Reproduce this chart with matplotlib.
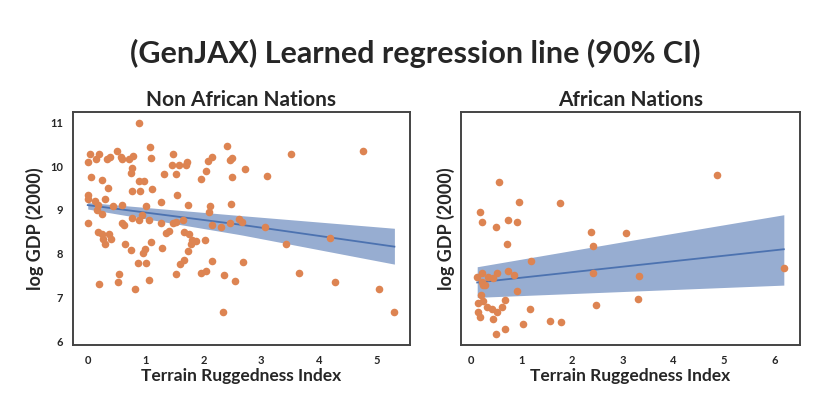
import numpy as np
import matplotlib
matplotlib.use("Agg")
import matplotlib.pyplot as plt

plt.rcParams['font.family'] = ['Lato', 'DejaVu Sans']

# Non-African nations: (ruggedness, log GDP 2000)
non_af_x = [0.886, 1.076, 0.035, 0.19, 0.51, 0.01, 0.14, 0.33, 0.39, 0.57, 0.60, 0.72, 0.78,
            0.77, 0.74, 1.10, 1.47, 1.45, 1.58, 1.70, 1.71, 1.53, 1.31, 0.06, 0.24, 0.88,
            0.97, 0.35, 0.77, 0.91, 1.11, 1.55, 0.0, 0.0, 0.13, 0.30, 1.27, 1.73, 0.18, 0.16,
            0.60, 0.44, 1.01, 0.24, 0.94, 0.77, 0.89, 1.05, 0.0, 0.60, 0.63, 1.27, 1.48, 1.53,
            1.64, 0.17, 0.24, 0.37, 0.41, 0.27, 0.29, 1.35, 1.40, 1.67, 1.75, 1.80, 1.79, 1.87,
            0.65, 0.75, 1.09, 1.28, 0.99, 0.96, 1.73, 0.86, 1.01, 1.67, 1.59, 0.54, 1.53, 0.52,
            0.19, 1.05, 0.81, 2.11, 2.09, 1.95, 2.04, 2.07, 2.14, 2.41, 2.46, 2.50, 2.49, 2.72,
            2.48, 2.15, 2.31, 2.45, 2.62, 2.66, 2.03, 2.15, 2.68, 1.95, 2.05, 2.35, 2.55, 2.33,
            3.10, 3.52, 3.07, 3.42, 3.65, 4.19, 4.28, 4.76, 5.04, 5.30]
non_af_y = [10.98, 10.45, 10.28, 10.28, 10.34, 10.09, 10.16, 10.17, 10.22, 10.20, 10.17, 10.17, 10.23,
            9.95, 9.85, 10.18, 10.29, 10.03, 10.02, 10.02, 10.10, 9.82, 9.82, 9.76, 9.69, 9.66,
            9.66, 9.50, 9.43, 9.44, 9.47, 9.35, 9.34, 9.24, 9.21, 9.26, 9.18, 9.12, 9.11, 9.00,
            9.11, 9.09, 9.10, 8.91, 8.89, 8.81, 8.76, 8.76, 8.70, 8.69, 8.66, 8.69, 8.71, 8.73,
            8.78, 8.49, 8.44, 8.45, 8.34, 8.33, 8.22, 8.47, 8.52, 8.50, 8.44, 8.31, 8.21, 8.28,
            8.21, 8.09, 8.27, 8.14, 8.11, 8.02, 8.07, 7.79, 7.79, 7.85, 7.76, 7.53, 7.53, 7.34,
            7.31, 7.40, 7.20, 9.08, 8.95, 9.70, 9.90, 10.12, 10.20, 10.46, 10.15, 10.18, 9.75, 9.93,
            9.13, 8.65, 8.60, 8.69, 8.79, 8.72, 8.31, 7.84, 7.80, 7.56, 7.61, 7.51, 7.37, 6.67,
            9.78, 10.29, 8.60, 8.23, 7.55, 8.36, 7.36, 10.34, 7.20, 6.67]

# African nations
af_x = [0.57, 4.87, 0.95, 1.77, 0.18, 0.22, 0.51, 0.73, 0.92, 2.37, 3.06, 0.72, 2.41, 1.20,
        6.19, 0.12, 0.23, 0.35, 0.44, 0.52, 0.74, 0.86, 0.22, 0.25, 0.29, 2.42, 3.32, 0.20,
        0.91, 0.14, 0.24, 0.67, 0.32, 0.42, 0.53, 0.62, 0.15, 0.18, 0.45, 3.30, 2.48, 1.17,
        1.57, 1.78, 1.03, 0.68, 0.50]
af_y = [9.64, 9.81, 9.18, 9.16, 8.96, 8.73, 8.61, 8.76, 8.72, 8.50, 8.47, 8.21, 8.18, 7.83,
        7.66, 7.47, 7.56, 7.47, 7.44, 7.55, 7.60, 7.50, 7.36, 7.28, 7.28, 7.55, 7.49, 7.06,
        7.14, 6.88, 6.91, 6.93, 6.79, 6.73, 6.66, 6.78, 6.67, 6.56, 6.51, 6.96, 6.82, 6.73,
        6.47, 6.44, 6.38, 6.27, 6.15]

# Regression line and 90% band (read at band ends / middle)
non_af_band_x = [0.0, 2.65, 5.30]
non_af_line = [9.11, 8.66, 8.16]
non_af_lo = [9.02, 8.43, 7.76]
non_af_hi = [9.17, 8.87, 8.58]

af_band_x = [0.13, 3.15, 6.18]
af_line = [7.34, 7.72, 8.10]
af_lo = [7.00, 7.14, 7.28]
af_hi = [7.70, 8.30, 8.89]

orange = '#dd8452'
blue = '#4c72b0'

fig = plt.figure(figsize=(8.3, 4.15), dpi=100)
ax1 = fig.add_axes([0.0876, 0.1687, 0.4064, 0.5614])
ax2 = fig.add_axes([0.5554, 0.1687, 0.4085, 0.5614], sharey=ax1)

panels = [
    (ax1, non_af_x, non_af_y, non_af_band_x, non_af_line, non_af_lo, non_af_hi, 'Non African Nations'),
    (ax2, af_x, af_y, af_band_x, af_line, af_lo, af_hi, 'African Nations'),
]
for ax, xs, ys, bx, bl, blo, bhi, title in panels:
    grid = np.linspace(bx[0], bx[-1], 100)
    ax.fill_between(grid, np.interp(grid, bx, blo), np.interp(grid, bx, bhi),
                    color=blue, alpha=0.58, linewidth=0, zorder=1)
    ax.plot(grid, np.interp(grid, bx, bl), color=blue, lw=1.3, zorder=2)
    ax.scatter(xs, ys, s=30, color=orange, linewidths=0, zorder=3)
    ax.set_title(title, fontsize=15, fontweight='bold', color='#262626', pad=4)
    ax.set_xlabel('Terrain Ruggedness Index', fontsize=12.5, fontweight='bold', color='#262626', labelpad=2)
    ax.set_ylabel('log GDP (2000)', fontsize=13, fontweight='bold', color='#262626')
    for sp in ax.spines.values():
        sp.set_color('#444444')
        sp.set_linewidth(1.4)
    ax.tick_params(length=0, labelsize=8, pad=7, colors='#262626')

ax1.set_yticks([6, 7, 8, 9, 10, 11])
ax1.set_xticks([0, 1, 2, 3, 4, 5])
ax2.set_xticks([0, 1, 2, 3, 4, 5, 6])
ax2.tick_params(labelleft=False)
ax1.set_ylim(5.91, 11.24)
ax1.set_xlim(-0.26, 5.57)
ax2.set_xlim(-0.19, 6.5)
for ax in (ax1, ax2):
    for lab in ax.get_xticklabels() + ax.get_yticklabels():
        lab.set_fontweight('bold')

fig.text(0.5, 0.872, '(GenJAX) Learned regression line (90% CI)', ha='center', va='center',
         fontsize=22, fontweight='bold', color='#262626')

fig.savefig('out.png', dpi=100)
